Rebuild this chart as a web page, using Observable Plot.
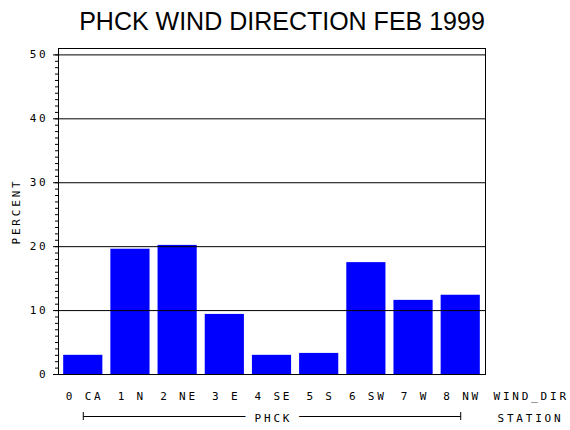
<!DOCTYPE html>
<html>
<head>
<meta charset="utf-8">
<script src="https://cdn.jsdelivr.net/npm/d3@7"></script>
<script src="https://cdn.jsdelivr.net/npm/@observablehq/plot@0.6"></script>
<style>
  body { margin: 0; background: white; }
  #wrap { position: relative; width: 570px; height: 430px; }
  #title { position: absolute; top: 6px; left: 0; width: 564px; text-align: center;
           font: 25px "Liberation Sans", sans-serif; line-height: 30px; color: black; }
  #chart svg text { letter-spacing: 2.8px; }
</style>
</head>
<body>
<div id="wrap">
  <div id="chart"></div>
  <div id="title">PHCK WIND DIRECTION FEB 1999</div>
</div>
<script>
const directions = ["0 CA", "1 N", "2 NE", "3 E", "4 SE", "5 S", "6 SW", "7 W", "8 NW"];
const percents = [3.0, 19.6, 20.2, 9.4, 3.0, 3.3, 17.5, 11.6, 12.4];
const majorTicks = [0, 10, 20, 30, 40, 50];
const minorTicks = d3.range(0, 51, 1);
const gridLines = [10, 20, 30, 40, 50];
const station = "PHCK";
const xLabel = "WIND_DIR";
const groupLabel = "STATION";
const yLabel = "PERCENT";

const data = directions.map((d, i) => ({dir: d, pct: percents[i]}));
const first = directions[0];
const last = directions[directions.length - 1];
const middle = directions[Math.floor(directions.length / 2)];

const chart = Plot.plot({
  width: 570,
  height: 430,
  marginTop: 48,
  marginBottom: 56,
  marginLeft: 58,
  marginRight: 85,
  style: {fontFamily: "'DejaVu Sans Mono', monospace", fontSize: "11px", background: "white", color: "black"},
  x: {type: "band", domain: directions, paddingInner: 0.17, paddingOuter: 0.11, round: false, axis: null},
  y: {domain: [0, 51], axis: null},
  marks: [
    Plot.barY(data, {x: "dir", y: "pct", fill: "#0000ff"}),
    Plot.ruleY(gridLines, {stroke: "black", strokeWidth: 1}),
    Plot.frame({stroke: "black"}),
    Plot.axisY(minorTicks, {tickSize: 3, tickFormat: () => "", label: null}),
    Plot.axisY(majorTicks, {tickSize: 5, tickPadding: 5, label: null, fontSize: 11}),
    Plot.text([yLabel], {frameAnchor: "left", textAnchor: "middle", lineAnchor: "middle", dx: -42, dy: 0, rotate: -90, fontSize: 11}),
    Plot.text(data, {x: "dir", text: "dir", frameAnchor: "bottom", lineAnchor: "middle", dy: 21.5, dx: 1.4, fontSize: 11}),
    Plot.text([xLabel], {frameAnchor: "bottom-right", lineAnchor: "middle", dx: 8, dy: 21.5, textAnchor: "start", fontSize: 11}),
    Plot.link([{a: first, b: last}], {x1: "a", x2: "b", y1: () => 0, y2: () => 0, dy: 42, stroke: "black"}),
    Plot.ruleX([first, last], {y1: 0, y2: 0, insetTop: -4, insetBottom: -4, dy: 42, stroke: "black"}),
    Plot.text([{x: middle, t: station}], {x: "x", text: "t", frameAnchor: "bottom", lineAnchor: "middle", dy: 44, dx: 1.4,
      fill: "black", stroke: "white", strokeWidth: 20, paintOrder: "stroke", fontSize: 11}),
    Plot.text([groupLabel], {frameAnchor: "bottom-right", lineAnchor: "middle", dx: 12, dy: 44, textAnchor: "start", fontSize: 11})
  ]
});
document.getElementById("chart").appendChild(chart);
</script>
</body>
</html>
